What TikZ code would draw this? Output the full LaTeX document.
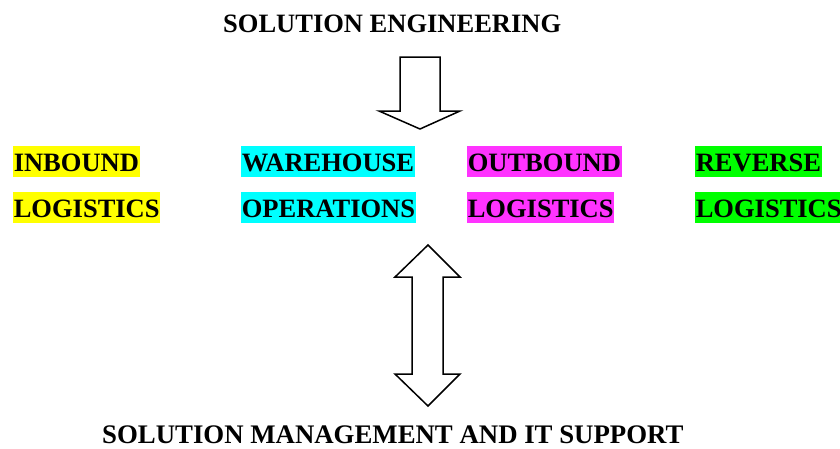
\documentclass[tikz,border=0pt]{standalone}
\usepackage{fontspec}
\setmainfont{Liberation Serif}
\definecolor{hlyellow}{RGB}{255,255,0}
\definecolor{hlcyan}{RGB}{0,255,255}
\definecolor{hlmagenta}{RGB}{255,51,255}
\definecolor{hlgreen}{RGB}{0,255,0}
\begin{document}
\begin{tikzpicture}[x=1pt,y=-1pt,
  lbl/.style={anchor=base west,inner xsep=0.6pt,inner ysep=0pt,text height=25pt,text depth=6pt,
    font=\fontsize{26.5}{30}\selectfont\bfseries},
  ttl/.style={anchor=base west,inner sep=0pt,font=\fontsize{26.5}{30}\selectfont\bfseries},
  blockarrow/.style={draw=black,line width=1.5pt,fill=white,line join=miter}]
\useasboundingbox (0,0) rectangle (840,448);
\node[ttl] (top) at (223,32) {SOLUTION ENGINEERING};
\node[ttl,font=\fontsize{26.8}{30}\selectfont\bfseries] (bottom) at (102,443) {SOLUTION MANAGEMENT AND IT SUPPORT};
% labels
\node[lbl,fill=hlyellow] (in1) at (13,171) {INBOUND};
\node[lbl,fill=hlyellow] (in2) at (13,217) {LOGISTICS};
\node[lbl,fill=hlcyan] (wh1) at (241,171) {WAREHOUSE};
\node[lbl,fill=hlcyan] (wh2) at (241,217) {OPERATIONS};
\node[lbl,fill=hlmagenta] (out1) at (467,171) {OUTBOUND};
\node[lbl,fill=hlmagenta] (out2) at (467,217) {LOGISTICS};
\node[lbl,fill=hlgreen] (rev1) at (695,171) {REVERSE};
\node[lbl,fill=hlgreen] (rev2) at (695,217) {LOGISTICS};
% top down arrow
\draw[blockarrow] (400,57) -- (440,57) -- (440,111) -- (460,111) -- (420,129) -- (379,111) -- (400,111) -- cycle;
% double arrow
\draw[blockarrow] (428,245) -- (460,277) -- (443,277) -- (443,374) -- (460,374) -- (428,406)
  -- (395,374) -- (412,374) -- (412,277) -- (395,277) -- cycle;
\end{tikzpicture}
\end{document}
